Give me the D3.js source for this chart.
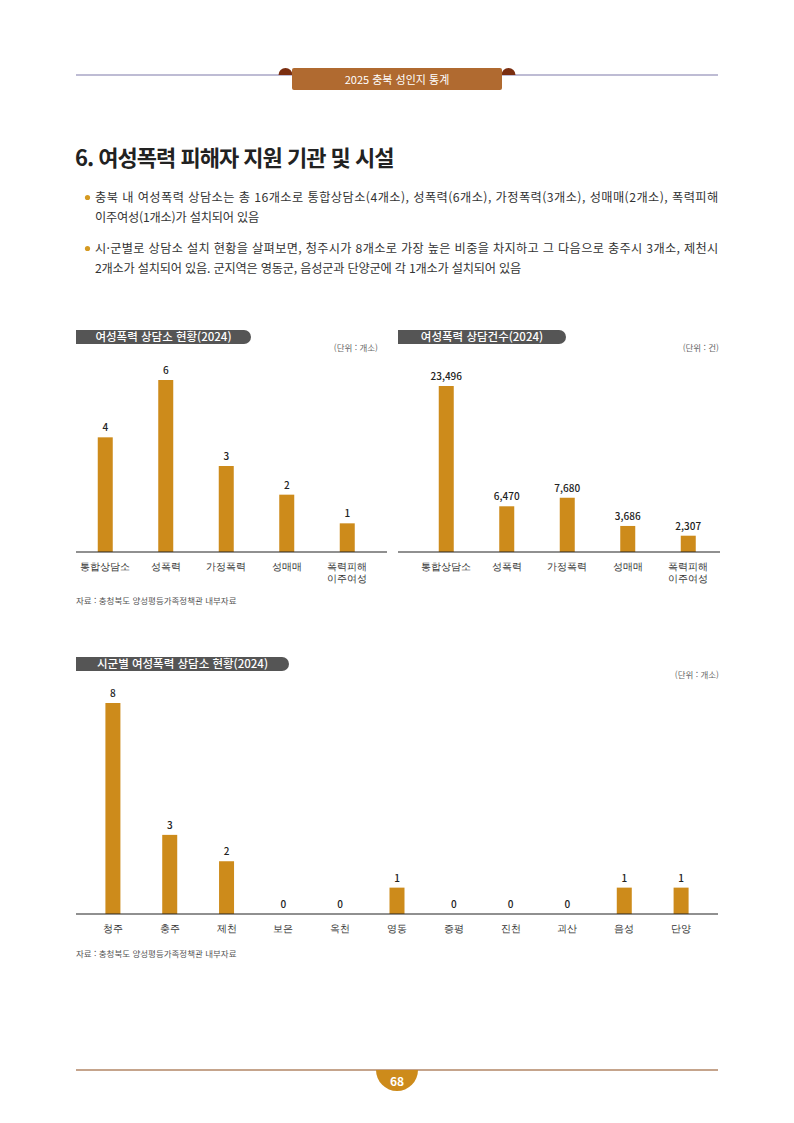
<!DOCTYPE html>
<html lang="ko">
<head>
<meta charset="utf-8">
<script src="https://cdn.jsdelivr.net/npm/d3@7"></script>
<style>
  html, body { margin: 0; padding: 0; background: #fff; }
  svg { display: block; font-family: "Noto Sans CJK KR", "Noto Sans", sans-serif; }
</style>
</head>
<body>
<svg id="page" width="794" height="1123"></svg>
<script>
// chart 1: counselling centres by type
const typeNames = [['통합상담소'], ['성폭력'], ['가정폭력'], ['성매매'], ['폭력피해', '이주여성']];
const centreCounts = [4, 6, 3, 2, 1];
// chart 2: counselling cases by type
const caseCounts = [23496, 6470, 7680, 3686, 2307];
// chart 3: centres by city / county
const regions = ['청주', '충주', '제천', '보은', '옥천', '영동', '증평', '진천', '괴산', '음성', '단양'];
const regionCounts = [8, 3, 2, 0, 0, 1, 0, 0, 0, 1, 1];

const barColor = '#cd8b1b';
const svg = d3.select('#page');

// ---- page header ----
svg.append('line')
    .attr('x1', 76).attr('x2', 718).attr('y1', 75).attr('y2', 75)
    .attr('stroke', '#a9a6c6').attr('stroke-width', 1.5);
[285.5, 508.5].forEach(cx => {
    svg.append('path')
        .attr('d', `M${cx - 7},75 A7,7 0 0 1 ${cx + 7},75 Z`)
        .attr('fill', '#7a2e10');
});
svg.append('rect')
    .attr('x', 292).attr('y', 68).attr('width', 210).attr('height', 22).attr('rx', 2)
    .attr('fill', '#b06a30');
svg.append('text')
    .attr('x', 397).attr('y', 83.5).attr('text-anchor', 'middle')
    .attr('fill', '#fff').attr('font-size', 11)
    .text('2025 충북 성인지 통계');

// ---- title and bullets ----
svg.append('text')
    .attr('x', 75).attr('y', 166)
    .attr('font-size', 22).attr('font-weight', 700).attr('fill', '#222')
    .attr('letter-spacing', -1)
    .text('6. 여성폭력 피해자 지원 기관 및 시설');

const bullets = [
    ['충북 내 여성폭력 상담소는 총 16개소로 통합상담소(4개소), 성폭력(6개소), 가정폭력(3개소), 성매매(2개소), 폭력피해',
     '이주여성(1개소)가 설치되어 있음'],
    ['시·군별로 상담소 설치 현황을 살펴보면, 청주시가 8개소로 가장 높은 비중을 차지하고 그 다음으로 충주시 3개소, 제천시',
     '2개소가 설치되어 있음. 군지역은 영동군, 음성군과 단양군에 각 1개소가 설치되어 있음']
];
bullets.forEach((lines, b) => {
    const y0 = 202 + b * 51;
    svg.append('circle').attr('cx', 87.5).attr('cy', y0 - 4.5).attr('r', 2.6).attr('fill', '#d59a22');
    lines.forEach((ln, i) => {
        svg.append('text')
            .attr('x', 95).attr('y', y0 + i * 20)
            .attr('font-size', 12.2).attr('fill', '#333').attr('letter-spacing', -0.2)
            .attr('textLength', i === 0 ? 623 : null)
            .attr('lengthAdjust', 'spacing')
            .text(ln);
    });
});

// ---- helpers ----
function pill(x, y, w, label) {
    const h = 14, r = 7;
    svg.append('path')
        .attr('d', `M${x},${y} H${x + w - r} A${r},${r} 0 0 1 ${x + w - r},${y + h} H${x} Z`)
        .attr('fill', '#555');
    svg.append('text')
        .attr('x', x + w / 2).attr('y', y + 11.2).attr('text-anchor', 'middle')
        .attr('fill', '#fff').attr('font-size', 11.5).attr('font-weight', 500)
        .text(label);
}

function unit(x, y, label) {
    svg.append('text')
        .attr('x', x).attr('y', y).attr('text-anchor', 'end')
        .attr('fill', '#666').attr('font-size', 8.5)
        .text(label);
}

function source(y) {
    svg.append('text')
        .attr('x', 76).attr('y', y)
        .attr('fill', '#555').attr('font-size', 8.5)
        .text('자료 : 충청북도 양성평등가족정책관 내부자료');
}

function barChart(opts) {
    const { cats, labels, values, xRange, axisX, baseY, topY, yMax, fmt, barW } = opts;
    const x = d3.scaleBand().domain(cats).range(xRange).paddingInner(0.75).paddingOuter(0.375);
    const y = d3.scaleLinear().domain([0, yMax]).range([baseY, topY]);
    const g = svg.append('g');
    const bw = barW || x.bandwidth();

    g.selectAll('rect.bar')
        .data(values)
        .join('rect')
        .attr('class', 'bar')
        .attr('x', (d, i) => x(cats[i]) + x.bandwidth() / 2 - bw / 2)
        .attr('y', d => y(d))
        .attr('width', bw)
        .attr('height', d => baseY - y(d))
        .attr('fill', barColor);

    g.selectAll('text.val')
        .data(values)
        .join('text')
        .attr('class', 'val')
        .attr('x', (d, i) => x(cats[i]) + x.bandwidth() / 2)
        .attr('y', d => y(d) - 6)
        .attr('text-anchor', 'middle')
        .attr('font-size', 10).attr('font-weight', 500).attr('fill', '#222')
        .text(d => fmt(d));

    // x axis: baseline plus category labels
    const axis = d3.axisBottom(x).tickSize(0).tickPadding(0).tickFormat('');
    const ag = g.append('g').attr('transform', `translate(0,${baseY})`).call(axis);
    ag.select('.domain').remove();
    ag.append('line')
        .attr('x1', axisX[0]).attr('x2', axisX[1])
        .attr('stroke', '#222').attr('stroke-width', 1.2);
    ag.selectAll('.tick').each(function (d, i) {
        const t = d3.select(this).append('text')
            .attr('text-anchor', 'middle').attr('fill', '#333')
            .attr('font-size', 9.5);
        labels[i].forEach((ln, k) => {
            t.append('tspan').attr('x', 0).attr('y', 18 + k * 12).text(ln);
        });
    });
}

// ---- chart 1 ----
pill(76, 330, 175, '여성폭력 상담소 현황(2024)');
unit(378, 351, '(단위 : 개소)');
barChart({
    cats: typeNames.map(d => d.join(' ')),
    labels: typeNames,
    values: centreCounts,
    xRange: [75, 377.5],
    axisX: [76, 387],
    baseY: 552, topY: 380, yMax: 6,
    fmt: d3.format(','),
    barW: 15
});

// ---- chart 2 ----
pill(398, 330, 168, '여성폭력 상담건수(2024)');
unit(719, 351, '(단위 : 건)');
barChart({
    cats: typeNames.map(d => d.join(' ')),
    labels: typeNames,
    values: caseCounts,
    xRange: [416, 718.5],
    axisX: [398, 720],
    baseY: 552, topY: 386, yMax: 23496,
    fmt: d3.format(','),
    barW: 15
});
source(604);

// ---- chart 3 ----
pill(76, 657, 213, '시군별 여성폭력 상담소 현황(2024)');
unit(719, 678, '(단위 : 개소)');
barChart({
    cats: regions,
    labels: regions.map(d => [d]),
    values: regionCounts,
    xRange: [84.5, 709.5],
    axisX: [76, 718],
    baseY: 914, topY: 703, yMax: 8,
    fmt: d3.format(','),
    barW: 15
});
source(957);

// ---- footer ----
svg.append('line')
    .attr('x1', 76).attr('x2', 718).attr('y1', 1070).attr('y2', 1070)
    .attr('stroke', '#8b4a1a').attr('stroke-width', 1.2);
svg.append('path')
    .attr('d', 'M376,1070 A21,21 0 0 0 418,1070 Z')
    .attr('fill', '#cd8b1b');
svg.append('text')
    .attr('x', 397).attr('y', 1086).attr('text-anchor', 'middle')
    .attr('fill', '#fff').attr('font-size', 12).attr('font-weight', 700)
    .text('68');
</script>
</body>
</html>
